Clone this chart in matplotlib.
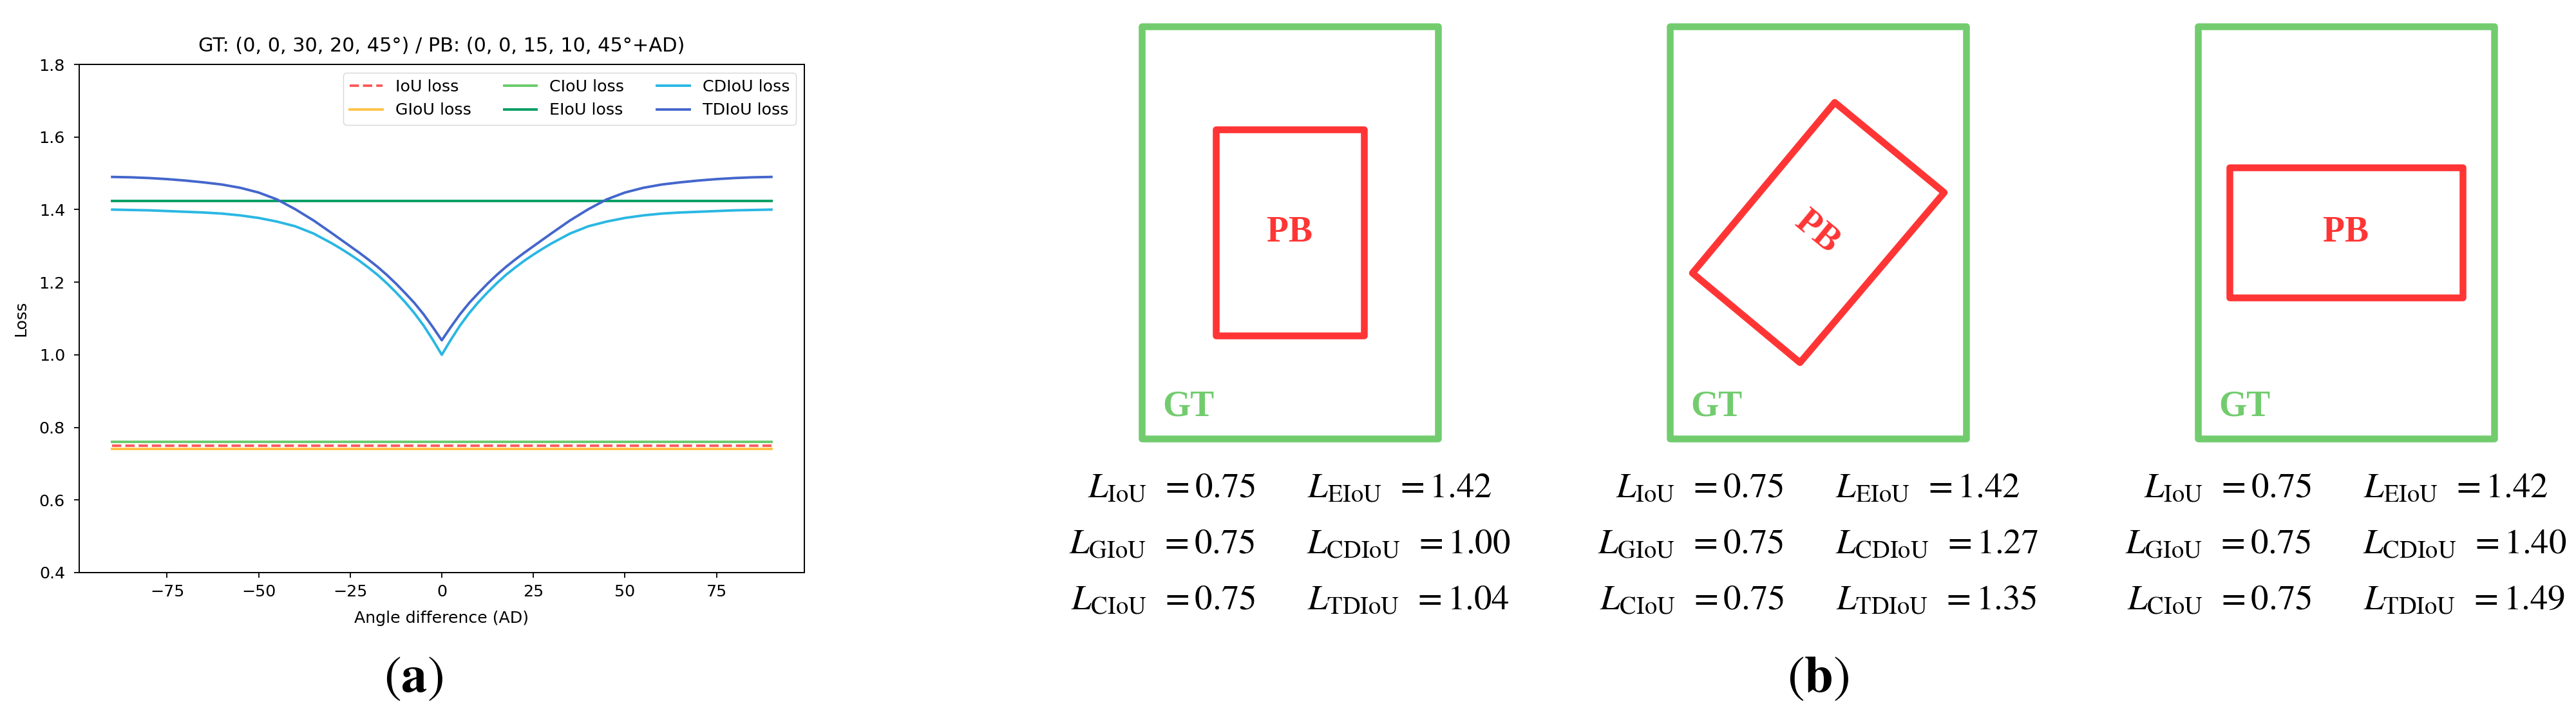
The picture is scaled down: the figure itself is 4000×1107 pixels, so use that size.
import matplotlib.pyplot as plt
from matplotlib.patches import Rectangle, Polygon

plt.rcParams['mathtext.fontset'] = 'stix'

# ---- data for (a): loss vs angle difference ----
angle = [-90, -85, -80, -75, -70, -65, -60, -55, -50, -45, -40, -35,
         -30, -27.5, -25, -22.5, -20, -17.5, -15, -12.5, -10, -7.5, -5, -2.5,
         0, 2.5, 5, 7.5, 10, 12.5, 15, 17.5, 20, 22.5, 25, 27.5, 30,
         35, 40, 45, 50, 55, 60, 65, 70, 75, 80, 85, 90]
cdiou_loss = [1.400, 1.399, 1.398, 1.396, 1.394, 1.392, 1.389, 1.384, 1.377, 1.367, 1.354, 1.334,
              1.307, 1.292, 1.276, 1.259, 1.240, 1.220, 1.197, 1.172, 1.145, 1.115, 1.081, 1.042,
              1.000, 1.042, 1.081, 1.115, 1.145, 1.172, 1.197, 1.220, 1.240, 1.259, 1.276, 1.292, 1.307,
              1.334, 1.354, 1.367, 1.377, 1.384, 1.389, 1.392, 1.394, 1.396, 1.398, 1.399, 1.400]
tdiou_loss = [1.490, 1.489, 1.487, 1.484, 1.480, 1.475, 1.469, 1.460, 1.447, 1.428, 1.401, 1.370,
              1.335, 1.317, 1.299, 1.281, 1.262, 1.242, 1.220, 1.196, 1.170, 1.143, 1.112, 1.077,
              1.040, 1.077, 1.112, 1.143, 1.170, 1.196, 1.220, 1.242, 1.262, 1.281, 1.299, 1.317, 1.335,
              1.370, 1.401, 1.428, 1.447, 1.460, 1.469, 1.475, 1.480, 1.484, 1.487, 1.489, 1.490]
flat_angle = [-90, 90]
iou_loss = [0.75, 0.75]
giou_loss = [0.74, 0.74]
ciou_loss = [0.76, 0.76]
eiou_loss = [1.424, 1.424]
xticks = [-75, -50, -25, 0, 25, 50, 75]
yticks = [0.4, 0.6, 0.8, 1.0, 1.2, 1.4, 1.6, 1.8]

# ---- data for (b): loss values under each drawing ----
b_iou = [0.75, 0.75, 0.75]
b_giou = [0.75, 0.75, 0.75]
b_ciou = [0.75, 0.75, 0.75]
b_eiou = [1.42, 1.42, 1.42]
b_cdiou = [1.00, 1.27, 1.40]
b_tdiou = [1.04, 1.35, 1.49]

W, H = 4000, 1107
fig = plt.figure(figsize=(W / 100, H / 100), dpi=100)

# left chart: a default-looking matplotlib plot, scaled up
fs = 18.2
lw = 2.8
ax = fig.add_axes([123 / W, 1 - 889 / H, 1126 / W, 789 / H])
ax.plot(flat_angle, iou_loss, '--', color='#ff5a5a', lw=lw, label='IoU loss')
ax.plot(flat_angle, giou_loss, color='#ffc247', lw=lw, label='GIoU loss')
ax.plot(flat_angle, ciou_loss, color='#6acb6a', lw=lw, label='CIoU loss')
ax.plot(flat_angle, eiou_loss, color='#009e63', lw=lw, label='EIoU loss')
ax.plot(angle, cdiou_loss, color='#2ab7e3', lw=lw, label='CDIoU loss')
ax.plot(angle, tdiou_loss, color='#4466cc', lw=lw, label='TDIoU loss')
ax.set_ylim(0.4, 1.8)
ax.set_xticks(xticks)
ax.set_yticks(yticks)
ax.set_xticklabels([str(t).replace('-', '\u2212') for t in xticks])
ax.tick_params(labelsize=fs, length=5.8, width=1.3)
ax.tick_params(axis='y', pad=10)
ax.tick_params(axis='x', pad=7)
for sp in ax.spines.values():
    sp.set_linewidth(1.4)
ax.set_title('GT: (0, 0, 30, 20, 45°) / PB: (0, 0, 15, 10, 45°+AD)', fontsize=fs * 1.2,
             y=1 + 28 / 789, pad=0, va='center')
ax.set_xlabel('Angle difference (AD)', fontsize=fs)
ax.set_ylabel('Loss', fontsize=fs)
ax.xaxis.set_label_coords(0.5, -(960 - 889) / 789)
ax.xaxis.label.set_va('center')
ax.yaxis.set_label_coords((33 - 123) / 1126, 0.5)
ax.yaxis.label.set_va('center')
ax.legend(ncol=3, loc='upper right', fontsize=fs)

# overlay in pixel coordinates for the drawings of (b)
ov = fig.add_axes([0, 0, 1, 1])
ov.set_xlim(0, W)
ov.set_ylim(H, 0)
ov.axis('off')

green = '#72cc6e'
red = '#ff3535'
centers = [2003, 2823, 3643]
gt_w, gt_h, gt_top = 460, 640, 41
lw_box = 7.6

for i, cx in enumerate(centers):
    ov.add_patch(Rectangle((cx - gt_w / 2, gt_top), gt_w, gt_h, fill=False, ec=green,
                           lw=lw_box, joinstyle='round'))
    ov.text(cx - gt_w / 2 + 32, gt_top + gt_h - 35, 'GT', color=green, fontsize=40,
            family='Liberation Serif', weight='bold', ha='left', va='baseline')
    rows = [(r'L_{\mathrm{IoU}}', b_iou[i], r'L_{\mathrm{EIoU}}', b_eiou[i]),
            (r'L_{\mathrm{GIoU}}', b_giou[i], r'L_{\mathrm{CDIoU}}', b_cdiou[i]),
            (r'L_{\mathrm{CIoU}}', b_ciou[i], r'L_{\mathrm{TDIoU}}', b_tdiou[i])]
    for j, (n1, v1, n2, v2) in enumerate(rows):
        s_row = r'$%s\ \,=%.2f\qquad %s\ \,=%.2f$' % (n1, v1, n2, v2)
        ov.text(cx, 772 + 87 * j, s_row, fontsize=39.5, ha='center', va='baseline')

# predicted boxes
cx, cy = centers[0], 361
ov.add_patch(Rectangle((cx - 115, cy - 160), 230, 320, fill=False, ec=red, lw=lw_box, joinstyle='round'))
ov.text(cx, cy, 'PB', color=red, fontsize=40, family='Liberation Serif', weight='bold',
        ha='center', va='center')

cx = centers[1]
ov.add_patch(Polygon([(cx + 26, cy - 202), (cx + 196, cy - 62), (cx - 28, cy + 202), (cx - 195, cy + 63)],
                     closed=True, fill=False, ec=red, lw=lw_box, joinstyle='round'))
ov.text(cx - 2, cy, 'PB', color=red, fontsize=40, family='Liberation Serif', weight='bold',
        ha='center', va='center', rotation=-39.5, rotation_mode='anchor')

cx = centers[2]
ov.add_patch(Rectangle((cx - 181, cy - 101), 362, 202, fill=False, ec=red, lw=lw_box, joinstyle='round'))
ov.text(cx, cy, 'PB', color=red, fontsize=40, family='Liberation Serif', weight='bold',
        ha='center', va='center')

ov.text(642, 1052, r'$(\mathbf{a})$', fontsize=58, ha='center', va='center')
ov.text(2823, 1052, r'$(\mathbf{b})$', fontsize=58, ha='center', va='center')

fig.savefig('out.png', dpi=100)
